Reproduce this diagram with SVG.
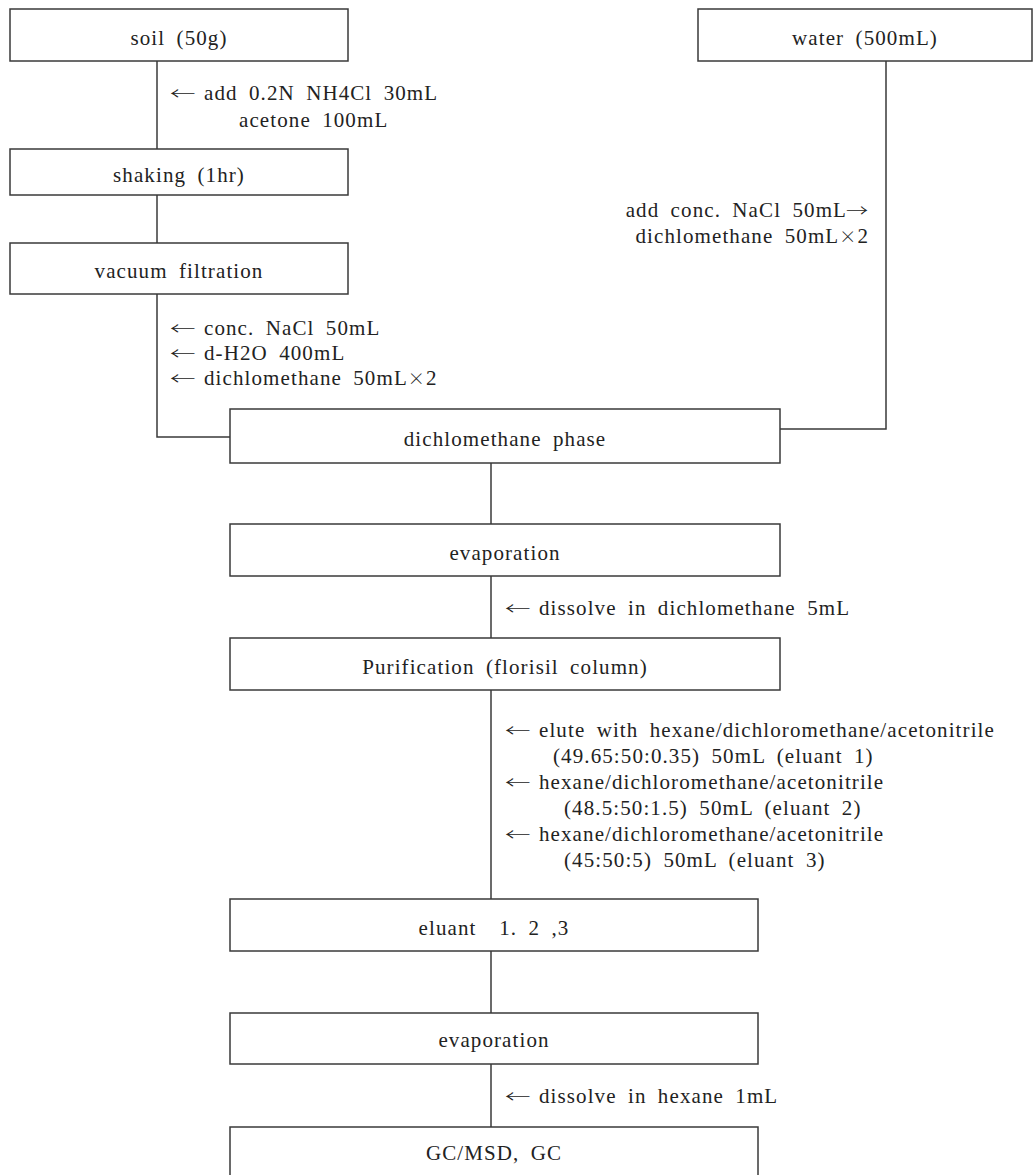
<svg xmlns="http://www.w3.org/2000/svg" width="1033" height="1175" viewBox="0 0 1033 1175">
<style>
  .box { fill: #ffffff; stroke: #3a3a3a; stroke-width: 1.5; }
  .conn { fill: none; stroke: #3a3a3a; stroke-width: 1.5; }
  text { font-family: "Liberation Serif", "Times New Roman", serif; font-size: 21px; fill: #222222; letter-spacing: 1.1px; word-spacing: 5px; white-space: pre; }
  .c { text-anchor: middle; }
  .r { text-anchor: end; }
  text.arr { font-family: "Noto Sans CJK KR", "Liberation Serif", sans-serif; font-size: 17px; font-weight: 300; letter-spacing: 0; }
  .x { font-family: "Noto Sans CJK KR", "Liberation Serif", sans-serif; font-size: 17px; font-weight: 300; }
</style>
<rect width="1033" height="1175" fill="#ffffff"/>
<g id="connectors">
  <polyline class="conn" points="157,61 157,149"/>
  <polyline class="conn" points="157,195 157,243"/>
  <polyline class="conn" points="157,294 157,437 230,437"/>
  <polyline class="conn" points="886,61 886,429 780,429"/>
  <polyline class="conn" points="491,463 491,524"/>
  <polyline class="conn" points="491,576 491,638"/>
  <polyline class="conn" points="491,690 491,899"/>
  <polyline class="conn" points="491,951 491,1013"/>
  <polyline class="conn" points="491,1064 491,1127"/>
</g>
<g id="labels">
  <text class="arr" transform="translate(170,100) scale(1.5,1)">←</text>
  <text x="204" y="100">add 0.2N NH4Cl 30mL</text>
  <text x="239" y="127">acetone 100mL</text>
  <text class="arr" transform="translate(170,335) scale(1.5,1)">←</text>
  <text x="204" y="335">conc. NaCl 50mL</text>
  <text class="arr" transform="translate(170,360) scale(1.5,1)">←</text>
  <text x="204" y="360">d-H2O 400mL</text>
  <text class="arr" transform="translate(170,385) scale(1.5,1)">←</text>
  <text x="204" y="385">dichlomethane 50mL<tspan class="x">×</tspan>2</text>
  <text class="r" x="847" y="217">add conc. NaCl 50mL</text>
  <text class="arr" transform="translate(846,217) scale(1.3,1)">→</text>
  <text class="r" x="869" y="243">dichlomethane 50mL<tspan class="x">×</tspan>2</text>
  <text class="arr" transform="translate(505,615) scale(1.5,1)">←</text>
  <text x="539" y="615">dissolve in dichlomethane 5mL</text>
  <text class="arr" transform="translate(505,737) scale(1.5,1)">←</text>
  <text x="539" y="737">elute with hexane/dichloromethane/acetonitrile</text>
  <text x="553" y="763">(49.65:50:0.35) 50mL (eluant 1)</text>
  <text class="arr" transform="translate(505,789) scale(1.5,1)">←</text>
  <text x="539" y="789">hexane/dichloromethane/acetonitrile</text>
  <text x="564" y="815">(48.5:50:1.5) 50mL (eluant 2)</text>
  <text class="arr" transform="translate(505,841) scale(1.5,1)">←</text>
  <text x="539" y="841">hexane/dichloromethane/acetonitrile</text>
  <text x="564" y="867">(45:50:5) 50mL (eluant 3)</text>
  <text class="arr" transform="translate(505,1103) scale(1.5,1)">←</text>
  <text x="539" y="1103">dissolve in hexane 1mL</text>
</g>
<g id="soil">
  <rect class="box" x="10" y="9" width="338" height="52"/>
  <text class="c" x="179" y="45">soil (50g)</text>
</g>
<g id="water">
  <rect class="box" x="698" y="9" width="334" height="52"/>
  <text class="c" x="865" y="45">water (500mL)</text>
</g>
<g id="shaking">
  <rect class="box" x="10" y="149" width="338" height="46"/>
  <text class="c" x="179" y="182">shaking (1hr)</text>
</g>
<g id="vacuum-filtration">
  <rect class="box" x="10" y="243" width="338" height="51"/>
  <text class="c" x="179" y="278">vacuum filtration</text>
</g>
<g id="dichlomethane-phase">
  <rect class="box" x="230" y="409" width="550" height="54"/>
  <text class="c" x="505" y="446">dichlomethane phase</text>
</g>
<g id="evaporation-1">
  <rect class="box" x="230" y="524" width="550" height="52"/>
  <text class="c" x="505" y="560">evaporation</text>
</g>
<g id="purification">
  <rect class="box" x="230" y="638" width="550" height="52"/>
  <text class="c" x="505" y="674">Purification (florisil column)</text>
</g>
<g id="eluant">
  <rect class="box" x="230" y="899" width="528" height="52"/>
  <text class="c" x="494" y="935">eluant  1. 2 ,3</text>
</g>
<g id="evaporation-2">
  <rect class="box" x="230" y="1013" width="528" height="51"/>
  <text class="c" x="494" y="1047">evaporation</text>
</g>
<g id="gc">
  <rect class="box" x="230" y="1127" width="528" height="60"/>
  <text class="c" x="494" y="1160">GC/MSD, GC</text>
</g>
</svg>
